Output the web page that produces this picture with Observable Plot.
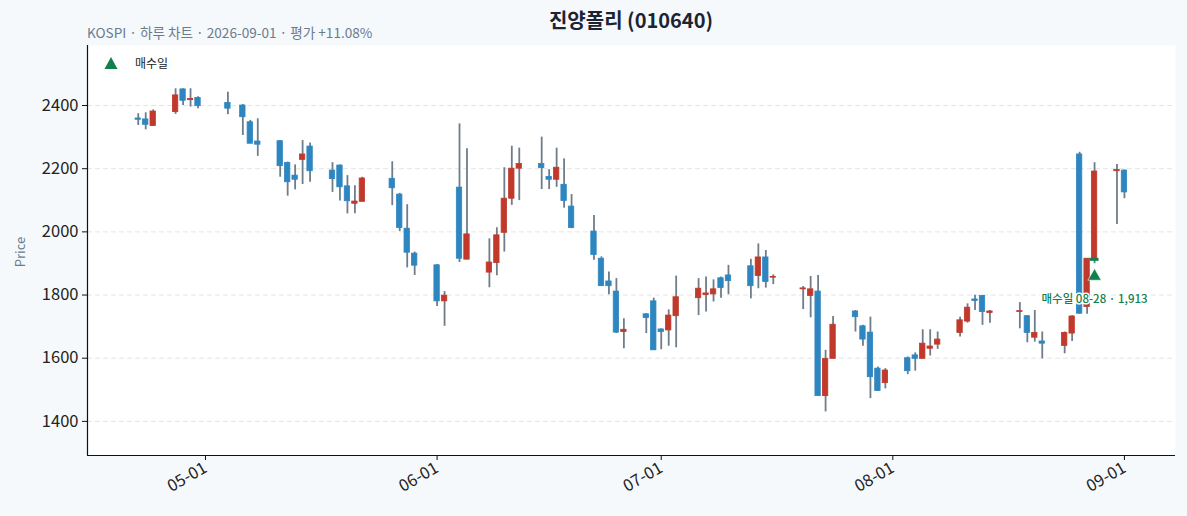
<!DOCTYPE html>
<html>
<head>
<meta charset="utf-8">
<script src="https://cdn.jsdelivr.net/npm/d3@7"></script>
<script src="https://cdn.jsdelivr.net/npm/@observablehq/plot@0.6"></script>
<style>
  html, body { margin: 0; padding: 0; background: #f5f9fc; }
  body { font-family: "Noto Sans CJK KR", "Noto Sans", sans-serif; }
  #wrap { position: relative; width: 1187px; height: 516px; overflow: hidden; }
  #chart { position: absolute; left: 0; top: 0; }
  #title { position: absolute; left: 87px; width: 1088px; top: 6px; text-align: center;
           font-size: 20px; font-weight: 700; color: #1c2433; line-height: 28px; }
  #sub { position: absolute; left: 87px; top: 23px; font-size: 13.6px; color: #6b7b8e; line-height: 18px; }
  #ylab { position: absolute; left: 19px; top: 252px; font-size: 13px; color: #6b7b8e;
          transform: translate(-50%, -50%) rotate(-90deg); white-space: nowrap; }
  #legend { position: absolute; left: 104px; top: 54px; display: flex; align-items: center;
            font-size: 12px; color: #222; line-height: 18px; }
  #legend svg { margin-right: 17px; }
</style>
</head>
<body>
<div id="wrap">
  <div id="chart"></div>
  <div id="title">진양폴리 (010640)</div>
  <div id="sub">KOSPI · 하루 차트 · 2026-09-01 · 평가 +11.08%</div>
  <div id="ylab">Price</div>
  <div id="legend"><svg width="14" height="14" viewBox="0 0 14 14"><path d="M7 1 L13.5 13 L0.5 13 Z" fill="#12804c"/></svg><span>매수일</span></div>
</div>
<script>
// ---- data ----
const dates = ["04-22","04-23","04-24","04-27","04-28","04-29","04-30",
  "05-04","05-06","05-07","05-08","05-11","05-12","05-13","05-14","05-15",
  "05-18","05-19","05-20","05-21","05-22","05-26","05-27","05-28","05-29",
  "06-01","06-02","06-04","06-05","06-08","06-09","06-10","06-11","06-12",
  "06-15","06-16","06-17","06-18","06-19","06-22","06-23","06-24","06-25","06-26",
  "06-29","06-30","07-01","07-02","07-03","07-06","07-07","07-08","07-09","07-10",
  "07-13","07-14","07-15","07-16","07-17","07-20","07-21","07-22","07-23","07-24",
  "07-27","07-28","07-29","07-30","07-31","08-03","08-04","08-05","08-06","08-07",
  "08-10","08-11","08-12","08-13","08-14","08-18","08-19","08-20","08-21",
  "08-24","08-25","08-26","08-27","08-28","08-31","09-01"];
const open  = [2359,2356,2335,2379,2451,2417,2424, 2408,2400,2347,2286,2287,2218,2178,2228,2270,
  2194,2210,2144,2089,2095,2168,2118,2010,1931, 1894,1780,2140,1912,1871,1901,1997,2105,2200,
  2215,2174,2165,2149,2080,2001,1915,1843,1811,1683, 1739,1780,1691,1688,1733,1790,1800,1802,1853,1862,
  1891,1860,1919,1855,1856,1818,1797,1811,1480,1598, 1748,1701,1681,1567,1521,1600,1609,1598,1630,1643,
  1680,1716,1786,1797,1743,1746,1733,1665,1653, 1639,1678,2245,1762,1913,2192,2194];
const high  = [2374,2377,2386,2453,2453,2453,2428, 2442,2403,2353,2358,2289,2221,2212,2289,2281,
  2219,2212,2178,2146,2173,2222,2122,2086,1936, 1897,1811,2342,2263,1978,2013,2203,2271,2265,
  2300,2197,2265,2231,2118,2052,1921,1873,1852,1725, 1741,1790,1693,1753,1860,1852,1857,1848,1857,1894,
  1913,1962,1941,1864,1856,1827,1859,1862,1625,1732, 1751,1704,1730,1572,1567,1604,1617,1690,1690,1683,
  1730,1772,1799,1799,1751,1776,1735,1751,1683, 1683,1735,2252,1915,2219,2213,2196];
const low   = [2337,2323,2335,2372,2400,2395,2390, 2371,2305,2279,2239,2173,2113,2133,2150,2157,
  2125,2098,2057,2057,2095,2083,2001,1886,1862, 1764,1701,1903,1912,1823,1861,1936,2084,2099,
  2134,2134,2141,2075,2010,1910,1828,1801,1678,1630, 1678,1625,1627,1638,1633,1735,1746,1778,1790,1801,
  1788,1820,1822,1833,1856,1754,1728,1480,1430,1598, 1683,1638,1472,1496,1503,1548,1559,1598,1607,1628,
  1667,1711,1751,1704,1711,1693,1649,1651,1598, 1614,1653,1739,1739,1899,2023,2105];
const close = [2355,2339,2381,2432,2415,2421,2398, 2390,2363,2279,2276,2208,2157,2165,2245,2192,
  2167,2141,2097,2096,2169,2138,2012,1934,1893, 1780,1798,1915,1992,1903,1989,2105,2200,2215,
  2202,2165,2203,2098,2012,1927,1828,1828,1681,1690, 1727,1625,1683,1735,1793,1820,1805,1818,1822,1844,
  1828,1919,1841,1857,1856,1821,1818,1480,1598,1706, 1730,1659,1540,1496,1561,1559,1598,1646,1637,1659,
  1720,1760,1781,1746,1748,1749,1680,1680,1646, 1680,1732,1741,1915,2191,2196,2125];

const yTicks = [1400, 1600, 1800, 2000, 2200, 2400];
const xTickLabels = ["05-01", "06-01", "07-01", "08-01", "09-01"];
const buyDate = "08-28";
const buyPrice = 1913;
const buyLabel = "매수일 08-28 · 1,913";

// ---- build ----
const toDate = s => new Date(`2026-${s}T00:00:00Z`);
const rows = dates.map((d, i) => ({date: toDate(d), open: open[i], high: high[i], low: low[i], close: close[i]}));
const buy = [{date: toDate(buyDate), price: buyPrice, label: buyLabel}];
const DAY = 864e5;
const halfBody = 0.36 * DAY;
const RED = "#c0392b", BLUE = "#2e86c1", WICK = "#6f7c8a", GREEN = "#12804c";
const xDomain = [new Date("2026-04-15T05:00:00Z"), new Date("2026-09-07T20:00:00Z")];
const yDomain = [1292, 2590];

const chart = Plot.plot({
  width: 1187,
  height: 516,
  marginLeft: 87,
  marginRight: 12,
  marginTop: 45,
  marginBottom: 61,
  style: {background: "transparent", fontFamily: '"Noto Sans CJK KR","Noto Sans",sans-serif', fontSize: "16.5px", color: "#222"},
  x: {type: "utc", domain: xDomain, label: null},
  y: {domain: yDomain, label: null},
  marks: [
    Plot.frame({fill: "white", stroke: null}),
    Plot.ruleY(yTicks, {stroke: "#e4e4e4", strokeDasharray: "5,3", strokeWidth: 1}),
    Plot.ruleX(rows, {x: "date", y1: "low", y2: "high", stroke: WICK, strokeWidth: 1.8}),
    Plot.rect(rows, {
      x1: d => new Date(+d.date - halfBody), x2: d => new Date(+d.date + halfBody),
      y1: "open", y2: "close",
      fill: d => d.close >= d.open ? RED : BLUE,
      stroke: d => d.close >= d.open ? RED : BLUE, strokeWidth: 0.8
    }),
    Plot.ruleY(buy, {y: "price", x1: d => new Date(+d.date - 0.6 * DAY), x2: d => new Date(+d.date + 0.6 * DAY), stroke: GREEN, strokeWidth: 3}),
    Plot.dot(buy, {x: "date", y: "price", dy: 17, symbol: "triangle", r: 5, fill: GREEN, stroke: "white", strokeWidth: 0.6}),
    Plot.text(buy, {x: "date", y: "price", dy: 40, text: "label", fill: GREEN, fontSize: 11.5, fontWeight: 500,
      stroke: "white", strokeWidth: 3, paintOrder: "stroke"}),
    Plot.ruleX([xDomain[0]], {stroke: "#111", strokeWidth: 1.2}),
    Plot.ruleY([yDomain[0]], {stroke: "#111", strokeWidth: 1.2}),
    Plot.axisY({ticks: yTicks, tickFormat: d3.format("d"), tickSize: 5, tickPadding: 4, label: null, stroke: "#111", fill: "#222"}),
    Plot.axisX({ticks: xTickLabels.map(toDate), tickFormat: d3.utcFormat("%m-%d"), tickRotate: -30, tickSize: 5, tickPadding: 6, label: null, stroke: "#111", fill: "#222"})
  ]
});
document.getElementById("chart").appendChild(chart);
</script>
</body>
</html>
